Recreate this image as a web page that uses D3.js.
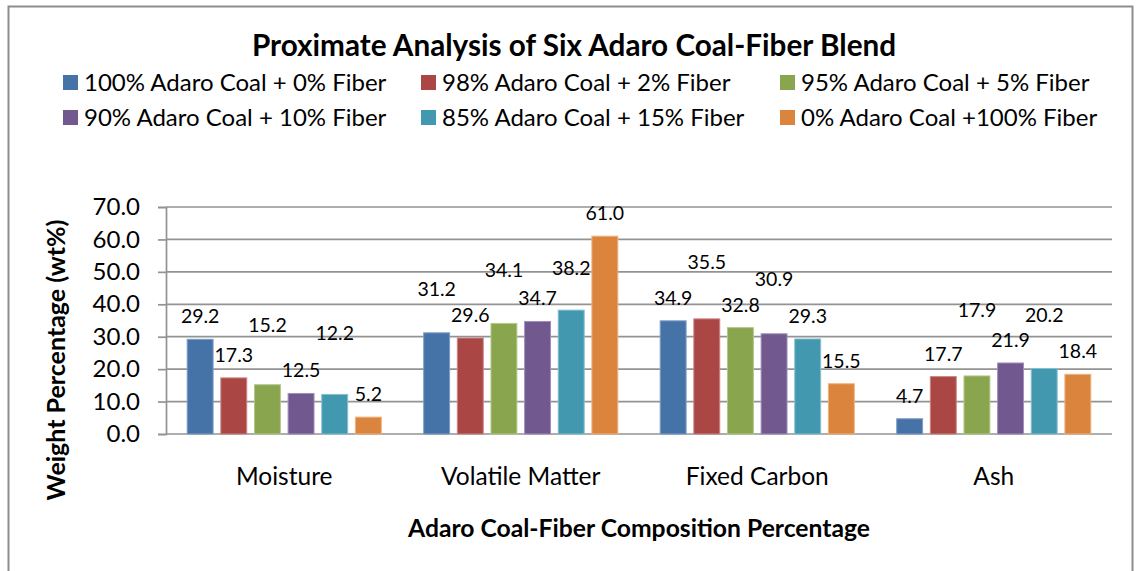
<!DOCTYPE html>
<html>
<head>
<meta charset="utf-8">
<script src="https://cdn.jsdelivr.net/npm/d3@7"></script>
<style>
  html, body { margin: 0; padding: 0; background: #fff; }
  svg { display: block; font-family: Lato, "Open Sans", sans-serif; }
</style>
</head>
<body>
<svg id="chart" width="1140" height="571"></svg>
<script>
// Proximate analysis categories and blend series
const categories = ["Moisture", "Volatile Matter", "Fixed Carbon", "Ash"];
const seriesNames = [
  "100% Adaro Coal + 0% Fiber",
  "98% Adaro Coal + 2% Fiber",
  "95% Adaro Coal + 5% Fiber",
  "90% Adaro Coal + 10% Fiber",
  "85% Adaro Coal + 15% Fiber",
  "0% Adaro Coal +100% Fiber"
];
// wt% values, one array per blend, in category order
const coal100 = [29.2, 31.2, 34.9, 4.7];
const coal98  = [17.3, 29.6, 35.5, 17.7];
const coal95  = [15.2, 34.1, 32.8, 17.9];
const coal90  = [12.5, 34.7, 30.9, 21.9];
const coal85  = [12.2, 38.2, 29.3, 20.2];
const coal0   = [5.2, 61.0, 15.5, 18.4];
const yTicks  = [0, 10, 20, 30, 40, 50, 60, 70];

// Extra lift (px) for data labels that were dragged upward, per category × series
const labelLift = [
  [0, 0, 37, 0, 38, 0],
  [21, 0, 30, 0, 19, 0],
  [0, 34, 0, 32, 0, 0],
  [0, 0, 43, 0, 30, 0]
];

const colors = ["#4572A7", "#AA4643", "#89A54E", "#71588F", "#4198AF", "#DB843D"];
const strokes = ["#7f9ec4", "#c98583", "#b2c88b", "#a08fb8", "#85bfcf", "#eeb27f"];

const seriesValues = [coal100, coal98, coal95, coal90, coal85, coal0];
const rows = categories.map((c, ci) => ({
  category: c,
  values: seriesNames.map((s, si) => ({ series: si, value: seriesValues[si][ci], lift: labelLift[ci][si] }))
}));

const svg = d3.select("#chart");
const plot = { left: 166, right: 1112, top: 207, bottom: 434 };

// Outer chart frame
svg.append("rect")
  .attr("x", 8.5).attr("y", 6.5)
  .attr("width", 1124).attr("height", 600)
  .attr("fill", "#fff").attr("stroke", "#8d8d8d").attr("stroke-width", 2);

const y = d3.scaleLinear().domain([0, 70]).range([plot.bottom, plot.top]);
const x0 = d3.scaleBand().domain(categories).range([plot.left, plot.right]).padding(0);
const edge = x0.bandwidth() * 0.0875;
const x1 = d3.scaleBand().domain(d3.range(seriesNames.length))
  .range([edge, x0.bandwidth() - edge]).paddingInner(0.2).paddingOuter(0);

// Horizontal gridlines
svg.append("g").selectAll("line").data(yTicks).join("line")
  .attr("x1", plot.left).attr("x2", plot.right)
  .attr("y1", d => y(d)).attr("y2", d => y(d))
  .attr("stroke", "#939393").attr("stroke-width", 1.7);

// Value axis
const yAxis = svg.append("g")
  .attr("transform", `translate(${plot.left},0)`)
  .call(d3.axisLeft(y).tickValues(yTicks).tickFormat(d3.format(".1f")).tickSize(8).tickPadding(18));
yAxis.select(".domain").attr("stroke", "#939393").attr("stroke-width", 1.7);
yAxis.selectAll(".tick line").attr("stroke", "#939393").attr("stroke-width", 1.7);
yAxis.selectAll(".tick text").attr("font-size", 24).attr("fill", "#000")
  .attr("font-family", "Lato, sans-serif");

// Bars
const groups = svg.append("g").selectAll("g").data(rows).join("g")
  .attr("transform", d => `translate(${x0(d.category)},0)`);

groups.selectAll("rect").data(d => d.values).join("rect")
  .attr("x", d => x1(d.series) + 0.5)
  .attr("width", x1.bandwidth() - 1)
  .attr("y", d => y(d.value))
  .attr("height", d => y(0) - y(d.value))
  .attr("fill", d => colors[d.series])
  .attr("stroke", d => strokes[d.series])
  .attr("stroke-width", 1);

// Data labels
groups.selectAll("text").data(d => d.values).join("text")
  .attr("x", d => x1(d.series) + x1.bandwidth() / 2)
  .attr("y", d => y(d.value) - 16 - d.lift)
  .attr("text-anchor", "middle")
  .attr("font-size", 19.5)
  .attr("fill", "#000")
  .text(d => d3.format(".1f")(d.value));

// Category axis
const xAxis = svg.append("g")
  .attr("transform", `translate(0,${plot.bottom})`)
  .call(d3.axisBottom(x0).tickSize(0));
xAxis.select(".domain").remove();
xAxis.selectAll(".tick text")
  .attr("y", 51).attr("dy", 0)
  .attr("font-size", 24.5).attr("fill", "#000")
  .attr("font-family", "Lato, sans-serif");

// Title
svg.append("text")
  .attr("x", 574).attr("y", 56)
  .attr("text-anchor", "middle")
  .attr("font-size", 29.7).attr("font-weight", "bold")
  .text("Proximate Analysis of Six Adaro Coal-Fiber Blend");

// Axis titles
svg.append("text")
  .attr("x", (plot.left + plot.right) / 2).attr("y", 537)
  .attr("text-anchor", "middle")
  .attr("font-size", 24.7).attr("font-weight", "bold")
  .text("Adaro Coal-Fiber Composition Percentage");

svg.append("text")
  .attr("transform", "translate(65,360) rotate(-90)")
  .attr("text-anchor", "middle")
  .attr("font-size", 25).attr("font-weight", "bold")
  .text("Weight Percentage (wt%)");

// Legend: three columns, two rows
const legendX = [63, 421, 780];
const legendY = [75, 110];
const legend = svg.append("g").selectAll("g").data(seriesNames).join("g")
  .attr("transform", (d, i) => `translate(${legendX[i % 3]},${legendY[Math.floor(i / 3)]})`);
legend.append("rect")
  .attr("width", 15).attr("height", 15)
  .attr("fill", (d, i) => colors[i]);
legend.append("text")
  .attr("x", 21).attr("y", 15.5)
  .attr("font-size", 24).attr("fill", "#000")
  .text(d => d);
</script>
</body>
</html>
